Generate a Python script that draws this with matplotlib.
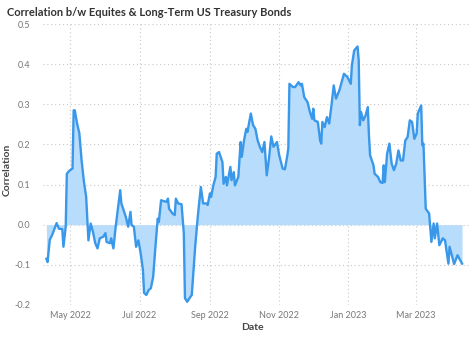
import matplotlib
matplotlib.use("Agg")
import matplotlib.pyplot as plt
import matplotlib.dates as mdates
import pandas as pd

base_date = "2022-05-01"
day_offsets = [-21, -20, -18, -16, -12, -10, -7, -6, -4, -3, -1, 2, 3, 4, 6, 8, 10, 12, 14, 16,
               18, 20, 22, 24, 26, 29, 31, 32, 35, 36, 38, 40, 42, 44, 45, 47, 49, 51, 53, 54,
               56, 58, 60, 62, 64, 65, 67, 69, 71, 73, 75, 77, 78, 80, 82, 85, 86, 87, 90, 92,
               93, 95, 98, 100, 101, 103, 105, 107, 109, 110, 112, 113, 115, 117, 120, 121, 123, 124, 126, 128,
               129, 131, 134, 135, 137, 138, 141, 142, 144, 145, 148, 150, 151, 153, 155, 156, 159, 161, 163, 165,
               167, 169, 171, 173, 175, 177, 179, 182, 184, 187, 189, 191, 192, 193, 196, 198, 201, 203, 204, 206,
               209, 211, 213, 214, 215, 218, 220, 221, 222, 224, 226, 228, 230, 232, 234, 237, 241, 244, 247, 248,
               250, 253, 254, 255, 256, 258, 260, 262, 263, 264, 267, 268, 271, 273, 275, 276, 277, 279, 281, 283,
               285, 287, 289, 291, 293, 295, 297, 299, 301, 303, 305, 306, 309, 310, 311, 313, 316, 318, 320, 321,
               323, 325, 328, 330, 331, 333, 334, 336, 338, 341, 345]
correlation = [-0.085, -0.093, -0.037, -0.026, 0.004, -0.010, -0.011, -0.055, -0.005, 0.127, 0.134, 0.140, 0.285, 0.285, 0.252, 0.228, 0.160, 0.108, 0.070, -0.039,
               0.003, -0.018, -0.046, -0.059, -0.034, -0.030, -0.021, -0.043, -0.046, -0.034, -0.059, -0.005, 0.041, 0.086, 0.053, 0.036, 0.019, -0.005, 0.032, -0.001,
               -0.005, -0.055, -0.039, -0.071, -0.113, -0.170, -0.175, -0.163, -0.158, -0.130, -0.055, 0.015, 0.007, 0.061, 0.059, 0.057, 0.065, 0.040, 0.028, 0.024,
               0.065, 0.053, 0.051, -0.022, -0.183, -0.192, -0.183, -0.175, -0.096, -0.055, 0.011, 0.040, 0.094, 0.053, 0.053, 0.049, 0.078, 0.069, 0.098, 0.119,
               0.177, 0.181, 0.156, 0.102, 0.119, 0.098, 0.144, 0.111, 0.131, 0.098, 0.119, 0.206, 0.169, 0.210, 0.239, 0.231, 0.277, 0.248, 0.239, 0.210,
               0.194, 0.181, 0.206, 0.123, 0.165, 0.220, 0.194, 0.206, 0.173, 0.140, 0.138, 0.170, 0.190, 0.351, 0.343, 0.343, 0.355, 0.347, 0.351, 0.318,
               0.305, 0.281, 0.264, 0.289, 0.260, 0.256, 0.210, 0.202, 0.256, 0.243, 0.268, 0.252, 0.297, 0.347, 0.314, 0.335, 0.376, 0.368, 0.351, 0.397,
               0.434, 0.444, 0.409, 0.248, 0.281, 0.260, 0.272, 0.293, 0.223, 0.173, 0.148, 0.127, 0.119, 0.106, 0.104, 0.148, 0.106, 0.177, 0.202, 0.152,
               0.136, 0.152, 0.185, 0.160, 0.160, 0.210, 0.218, 0.260, 0.256, 0.214, 0.227, 0.277, 0.297, 0.198, 0.202, 0.040, 0.028, -0.043, 0.003, -0.034,
               0.003, -0.051, -0.034, -0.039, -0.059, -0.097, -0.055, -0.076, -0.098, -0.076, -0.097]

title = "Correlation b/w Equites & Long-Term US Treasury Bonds"
x_label = "Date"
y_label = "Correlation"
y_ticks = [-0.2, -0.1, 0.0, 0.1, 0.2, 0.3, 0.4, 0.5]

dates = pd.to_datetime(base_date) + pd.to_timedelta(day_offsets, unit="D")

plt.rcParams['font.family'] = ['Lato', 'DejaVu Sans']

fig = plt.figure(figsize=(4.74, 3.44), dpi=100)
ax = fig.add_axes([0.0907, 0.1134, 0.9009, 0.8168])

line_color = "#3A98EA"
fill_color = "#B8DCFB"

ax.fill_between(dates, correlation, 0, color=fill_color, linewidth=0, zorder=2)
ax.plot(dates, correlation, color=line_color, linewidth=1.7, zorder=3)

ax.set_ylim(-0.2, 0.5)
ax.set_yticks(y_ticks)
ax.set_yticklabels([f"{v:.1f}" for v in y_ticks])
ax.set_xlim(pd.to_datetime(base_date) + pd.Timedelta(days=-24),
            pd.to_datetime(base_date) + pd.Timedelta(days=352))
ax.xaxis.set_major_locator(mdates.MonthLocator(bymonth=[1, 3, 5, 7, 9, 11]))
ax.xaxis.set_major_formatter(mdates.DateFormatter("%b %Y"))

ax.grid(True, color="#C8C8C8", linestyle=(0, (1, 2.5)), linewidth=0.8, zorder=1)
for s in ax.spines.values():
    s.set_visible(False)
ax.tick_params(axis="both", length=0, labelsize=6.5, labelcolor="#777777")
ax.tick_params(axis="x", pad=4)
ax.tick_params(axis="y", pad=9)

ax.set_xlabel(x_label, fontsize=7.5, color="#444444", fontweight="bold")
ax.xaxis.set_label_coords(0.49, -0.065)
ax.set_ylabel(y_label, fontsize=7.5, color="#444444", fontweight="bold")
ax.yaxis.set_label_coords(-0.073, 0.48)
fig.text(0.015, 0.965, title, fontsize=8.0, color="#333333", fontweight="bold",
         va="center", ha="left")

fig.savefig("out.png", dpi=100, facecolor="white")
